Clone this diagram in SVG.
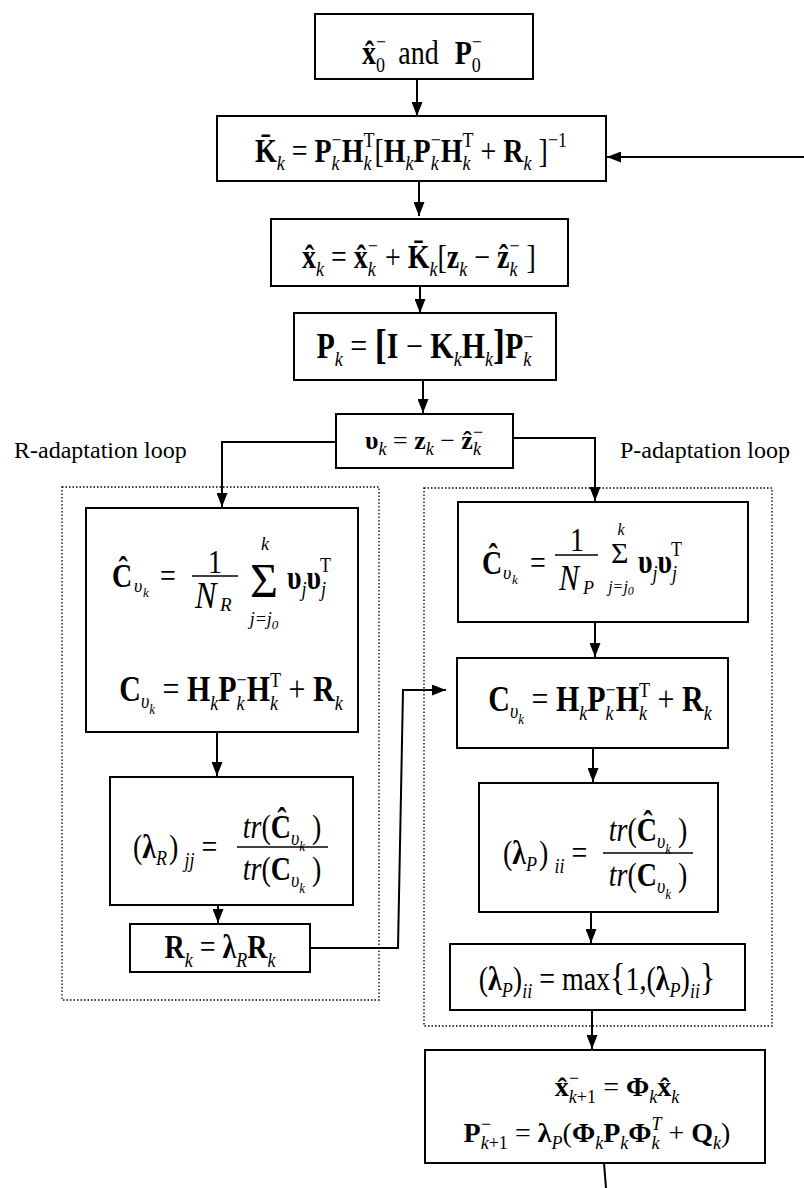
<svg xmlns="http://www.w3.org/2000/svg" width="804" height="1188" viewBox="0 0 804 1188">
<style>
.t{font-family:"Liberation Serif","Times New Roman",serif;fill:#000}
.v{transform-box:fill-box;transform-origin:center;transform:scaleY(1.18)}
.f{font-size:28px}
.b{font-weight:bold}
.i{font-style:italic}
.s{font-size:18px}
.ss{font-size:13px}
.box{fill:#fff;stroke:#000;stroke-width:2}
.c{fill:none;stroke:#000;stroke-width:2}
.bar{stroke:#000;stroke-width:1.5}
.dot{fill:none;stroke:#000;stroke-width:1.3;stroke-dasharray:1.5 2}
.lbl{font-family:"Liberation Serif","Times New Roman",serif;font-size:24px;fill:#000}
</style>
<defs>
<marker id="ah" markerUnits="userSpaceOnUse" markerWidth="14" markerHeight="11" refX="14" refY="5.5" orient="auto">
<path d="M0,0 L14,5.5 L0,11 z" fill="#000"/>
</marker>
</defs>
<rect width="804" height="1188" fill="#fff"/>

<g id="loops">
<rect class="dot" x="62" y="487" width="317" height="513"/>
<rect class="dot" x="424" y="488" width="348" height="538"/>
<text class="lbl" x="14" y="458">R-adaptation loop</text>
<text class="lbl" x="620" y="458">P-adaptation loop</text>
</g>

<g id="connectors">
<line class="c" x1="417" y1="80" x2="417" y2="116" marker-end="url(#ah)"/>
<line class="c" x1="804" y1="157" x2="607" y2="157" marker-end="url(#ah)"/>
<line class="c" x1="419" y1="181" x2="419" y2="216" marker-end="url(#ah)"/>
<line class="c" x1="420" y1="286" x2="420" y2="313" marker-end="url(#ah)"/>
<line class="c" x1="423" y1="380" x2="423" y2="413" marker-end="url(#ah)"/>
<polyline class="c" points="336,442 222,442 222,507" marker-end="url(#ah)"/>
<polyline class="c" points="513,438 595,438 595,501" marker-end="url(#ah)"/>
<line class="c" x1="595" y1="622" x2="595" y2="657" marker-end="url(#ah)"/>
<line class="c" x1="217" y1="732" x2="217" y2="776" marker-end="url(#ah)"/>
<line class="c" x1="218" y1="905" x2="218" y2="923" marker-end="url(#ah)"/>
<polyline class="c" points="310,948 398,948 403,690 446,690" marker-end="url(#ah)"/>
<line class="c" x1="593" y1="748" x2="593" y2="782" marker-end="url(#ah)"/>
<line class="c" x1="591" y1="912" x2="591" y2="943" marker-end="url(#ah)"/>
<line class="c" x1="592" y1="1010" x2="592" y2="1049" marker-end="url(#ah)"/>
<line class="c" x1="604" y1="1163" x2="606" y2="1188"/>
</g>

<g id="n-init">
<rect class="box" x="315" y="14" width="218" height="65"/>
<text class="t f v" x="422" y="62" text-anchor="middle"><tspan class="b">x&#x302;</tspan><tspan class="s" dy="7">0</tspan><tspan class="s" dx="-9" dy="-19">&#x2212;</tspan><tspan dx="12" dy="12">and</tspan><tspan class="b" dx="16">P</tspan><tspan class="s" dy="7">0</tspan><tspan class="s" dx="-9" dy="-19">&#x2212;</tspan></text>
</g>

<g id="n-gain">
<rect class="box" x="217" y="116" width="389" height="65"/>
<text class="t f v" x="411" y="160" text-anchor="middle"><tspan class="b">K&#x304;</tspan><tspan class="s i" dy="7">k</tspan><tspan dy="-7"> = </tspan><tspan class="b">P</tspan><tspan class="s i" dy="7">k</tspan><tspan class="s" dx="-8" dy="-19">&#x2212;</tspan><tspan class="b" dy="12">H</tspan><tspan class="s i" dy="7">k</tspan><tspan class="s" dx="-8" dy="-19">T</tspan><tspan dy="12">[</tspan><tspan class="b">H</tspan><tspan class="s i" dy="7">k</tspan><tspan class="b" dy="-7">P</tspan><tspan class="s i" dy="7">k</tspan><tspan class="s" dx="-8" dy="-19">&#x2212;</tspan><tspan class="b" dy="12">H</tspan><tspan class="s i" dy="7">k</tspan><tspan class="s" dx="-8" dy="-19">T</tspan><tspan dy="12"> + </tspan><tspan class="b">R</tspan><tspan class="s i" dy="7">k</tspan><tspan dy="-7"> ]</tspan><tspan class="s" dy="-12">&#x2212;1</tspan></text>
</g>

<g id="n-update">
<rect class="box" x="271" y="219" width="297" height="67"/>
<text class="t f v" x="419" y="266" text-anchor="middle"><tspan class="b">x&#x302;</tspan><tspan class="s i" dy="7">k</tspan><tspan dy="-7"> = </tspan><tspan class="b">x&#x302;</tspan><tspan class="s i" dy="7">k</tspan><tspan class="s" dx="-8" dy="-19">&#x2212;</tspan><tspan dy="12"> + </tspan><tspan class="b">K&#x304;</tspan><tspan class="s i" dy="7">k</tspan><tspan dy="-7">[</tspan><tspan class="b">z</tspan><tspan class="s i" dy="7">k</tspan><tspan dy="-7"> &#x2212; </tspan><tspan class="b">&#x1E91;</tspan><tspan class="s i" dy="7">k</tspan><tspan class="s" dx="-8" dy="-19">&#x2212;</tspan><tspan dy="12"> ]</tspan></text>
</g>

<g id="n-cov">
<rect class="box" x="294" y="313" width="262" height="67"/>
<text class="t v" font-size="30" x="425" y="356" text-anchor="middle"><tspan class="b">P</tspan><tspan class="s i" dy="7">k</tspan><tspan dy="-7"> = </tspan><tspan class="b" font-size="36">[</tspan><tspan class="b">I</tspan><tspan> &#x2212; </tspan><tspan class="b">K</tspan><tspan class="s i" dy="7">k</tspan><tspan class="b" dy="-7">H</tspan><tspan class="s i" dy="7">k</tspan><tspan class="b" font-size="36" dy="-7">]</tspan><tspan class="b">P</tspan><tspan class="s i" dy="7">k</tspan><tspan class="s" dx="-8" dy="-19">&#x2212;</tspan></text>
</g>

<g id="n-innov">
<rect class="box" x="336" y="414" width="177" height="54"/>
<text class="t" font-size="26" x="424" y="449" text-anchor="middle"><tspan class="b">&#x3C5;</tspan><tspan class="s i" dy="6">k</tspan><tspan dy="-6"> = </tspan><tspan class="b">z</tspan><tspan class="s i" dy="6">k</tspan><tspan dy="-6"> &#x2212; </tspan><tspan class="b">&#x1E91;</tspan><tspan class="s i" dy="6">k</tspan><tspan class="s" dx="-8" dy="-17">&#x2212;</tspan></text>
</g>

<g id="n-rcov">
<rect class="box" x="86" y="508" width="272" height="224"/>
<text class="t b v" font-size="28" x="112" y="585">&#x108;</text>
<text class="t i" font-size="18" x="134" y="592">&#x3C5;</text>
<text class="t i" font-size="13" x="143" y="597">k</text>
<text class="t v" font-size="28" x="160" y="585">=</text>
<text class="t v" font-size="28" x="215" y="571" text-anchor="middle">1</text>
<line class="bar" x1="192" y1="576" x2="238" y2="576"/>
<text class="t i v" font-size="32" x="195" y="606">N</text>
<text class="t i" font-size="19" x="220" y="611">R</text>
<text class="t" font-size="48" x="250" y="597">&#x3A3;</text>
<text class="t i" font-size="18" x="265" y="550" text-anchor="middle">k</text>
<text class="t i" font-size="18" x="264" y="625" text-anchor="middle">j=j<tspan font-size="13" dy="4">0</tspan></text>
<text class="t v" x="287" y="587"><tspan class="b" font-size="28">&#x3C5;</tspan><tspan class="i" font-size="18" dy="6">j</tspan><tspan class="b" font-size="28" dy="-6">&#x3C5;</tspan><tspan class="i" font-size="18" dy="6">j</tspan><tspan font-size="18" dx="-6" dy="-20">T</tspan></text>
<text class="t v" font-size="30" x="231" y="700" text-anchor="middle"><tspan class="b">C</tspan><tspan class="s i" dy="6">&#x3C5;</tspan><tspan class="ss i" dy="5">k</tspan><tspan dy="-11"> = </tspan><tspan class="b">H</tspan><tspan class="s i" dy="7">k</tspan><tspan class="b" dy="-7">P</tspan><tspan class="s i" dy="7">k</tspan><tspan class="s" dx="-8" dy="-19">&#x2212;</tspan><tspan class="b" dy="12">H</tspan><tspan class="s i" dy="7">k</tspan><tspan class="s" dx="-8" dy="-19">T</tspan><tspan dy="12"> + </tspan><tspan class="b">R</tspan><tspan class="s i" dy="7">k</tspan></text>
</g>

<g id="n-lambdaR">
<rect class="box" x="110" y="777" width="243" height="128"/>
<text class="t v" font-size="28" x="133" y="857">(<tspan class="b">&#x3BB;</tspan><tspan class="s i" dy="6">R</tspan><tspan dy="-6" dx="2">)</tspan><tspan class="s i" dy="7" dx="6">jj</tspan><tspan dy="-7"> = </tspan></text>
<text class="t v" font-size="28" x="282" y="837" text-anchor="middle"><tspan class="i">tr</tspan>(<tspan class="b">&#x108;</tspan><tspan class="s i" dy="6">&#x3C5;</tspan><tspan class="ss i" dy="5">k</tspan><tspan dy="-11"> )</tspan></text>
<line class="bar" x1="237" y1="847" x2="328" y2="847"/>
<text class="t v" font-size="28" x="282" y="879" text-anchor="middle"><tspan class="i">tr</tspan>(<tspan class="b">C</tspan><tspan class="s i" dy="6">&#x3C5;</tspan><tspan class="ss i" dy="5">k</tspan><tspan dy="-11"> )</tspan></text>
</g>

<g id="n-rscale">
<rect class="box" x="130" y="924" width="180" height="48"/>
<text class="t v" font-size="28" x="220" y="957" text-anchor="middle"><tspan class="b">R</tspan><tspan class="s i" dy="7">k</tspan><tspan dy="-7"> = </tspan><tspan class="b">&#x3BB;</tspan><tspan class="s i" dy="7">R</tspan><tspan class="b" dy="-7">R</tspan><tspan class="s i" dy="7">k</tspan></text>
</g>

<g id="n-pcov">
<rect class="box" x="458" y="502" width="290" height="120"/>
<text class="t b v" font-size="28" x="482" y="572">&#x108;</text>
<text class="t i" font-size="18" x="503" y="579">&#x3C5;</text>
<text class="t i" font-size="13" x="512" y="584">k</text>
<text class="t v" font-size="28" x="530" y="572">=</text>
<text class="t v" font-size="28" x="577" y="549" text-anchor="middle">1</text>
<line class="bar" x1="555" y1="555" x2="598" y2="555"/>
<text class="t i v" font-size="30" x="559" y="588">N</text>
<text class="t i" font-size="18" x="583" y="594">P</text>
<text class="t" font-size="30" x="611" y="563">&#x3A3;</text>
<text class="t i" font-size="16" x="621" y="535" text-anchor="middle">k</text>
<text class="t i" font-size="16" x="621" y="592" text-anchor="middle">j=j<tspan font-size="12" dy="3">0</tspan></text>
<text class="t v" x="638" y="571"><tspan class="b" font-size="28">&#x3C5;</tspan><tspan class="i" font-size="18" dy="6">j</tspan><tspan class="b" font-size="28" dy="-6">&#x3C5;</tspan><tspan class="i" font-size="18" dy="6">j</tspan><tspan font-size="18" dx="-6" dy="-20">T</tspan></text>
</g>

<g id="n-pcov2">
<rect class="box" x="457" y="658" width="271" height="90"/>
<text class="t v" font-size="30" x="600" y="710" text-anchor="middle"><tspan class="b">C</tspan><tspan class="s i" dy="6">&#x3C5;</tspan><tspan class="ss i" dy="5">k</tspan><tspan dy="-11"> = </tspan><tspan class="b">H</tspan><tspan class="s i" dy="7">k</tspan><tspan class="b" dy="-7">P</tspan><tspan class="s i" dy="7">k</tspan><tspan class="s" dx="-8" dy="-19">&#x2212;</tspan><tspan class="b" dy="12">H</tspan><tspan class="s i" dy="7">k</tspan><tspan class="s" dx="-8" dy="-19">T</tspan><tspan dy="12"> + </tspan><tspan class="b">R</tspan><tspan class="s i" dy="7">k</tspan></text>
</g>

<g id="n-lambdaP">
<rect class="box" x="479" y="783" width="239" height="129"/>
<text class="t v" font-size="28" x="503" y="863">(<tspan class="b">&#x3BB;</tspan><tspan class="s i" dy="6">P</tspan><tspan dy="-6" dx="2">)</tspan><tspan class="s i" dy="7" dx="6">ii</tspan><tspan dy="-7"> = </tspan></text>
<text class="t v" font-size="28" x="648" y="840" text-anchor="middle"><tspan class="i">tr</tspan>(<tspan class="b">&#x108;</tspan><tspan class="s i" dy="6">&#x3C5;</tspan><tspan class="ss i" dy="5">k</tspan><tspan dy="-11"> )</tspan></text>
<line class="bar" x1="603" y1="853" x2="693" y2="853"/>
<text class="t v" font-size="28" x="648" y="885" text-anchor="middle"><tspan class="i">tr</tspan>(<tspan class="b">C</tspan><tspan class="s i" dy="6">&#x3C5;</tspan><tspan class="ss i" dy="5">k</tspan><tspan dy="-11"> )</tspan></text>
</g>

<g id="n-max">
<rect class="box" x="450" y="944" width="295" height="66"/>
<text class="t v" font-size="28" x="597" y="988" text-anchor="middle">(<tspan class="b">&#x3BB;</tspan><tspan class="s i" dy="6">P</tspan><tspan dy="-6">)</tspan><tspan class="s i" dy="7">ii</tspan><tspan dy="-7"> = max</tspan><tspan font-size="32">{</tspan><tspan>1,(</tspan><tspan class="b">&#x3BB;</tspan><tspan class="s i" dy="6">P</tspan><tspan dy="-6">)</tspan><tspan class="s i" dy="7">ii</tspan><tspan dy="-7" font-size="32">}</tspan></text>
</g>

<g id="n-predict">
<rect class="box" x="425" y="1050" width="340" height="113"/>
<text class="t" font-size="28" x="617" y="1096" text-anchor="middle"><tspan class="b">x&#x302;</tspan><tspan class="s i" dy="7">k</tspan><tspan class="s" dy="0">+1</tspan><tspan class="s" dx="-27" dy="-19">&#x2212;</tspan><tspan dx="17" dy="12"> = </tspan><tspan class="b">&#x3A6;</tspan><tspan class="s i" dy="7">k</tspan><tspan class="b" dy="-7">x&#x302;</tspan><tspan class="s i" dy="7">k</tspan></text>
<text class="t" font-size="28" x="597" y="1142" text-anchor="middle"><tspan class="b">P</tspan><tspan class="s i" dy="7">k</tspan><tspan class="s">+1</tspan><tspan class="s" dx="-27" dy="-19">&#x2212;</tspan><tspan dx="17" dy="12"> = </tspan><tspan class="b">&#x3BB;</tspan><tspan class="s i" dy="7">P</tspan><tspan dy="-7">(</tspan><tspan class="b">&#x3A6;</tspan><tspan class="s i" dy="7">k</tspan><tspan class="b" dy="-7">P</tspan><tspan class="s i" dy="7">k</tspan><tspan class="b" dy="-7">&#x3A6;</tspan><tspan class="s i" dy="7">k</tspan><tspan class="s i" dx="-8" dy="-19">T</tspan><tspan dy="12"> + </tspan><tspan class="b">Q</tspan><tspan class="s i" dy="7">k</tspan><tspan dy="-7">)</tspan></text>
</g>
</svg>
